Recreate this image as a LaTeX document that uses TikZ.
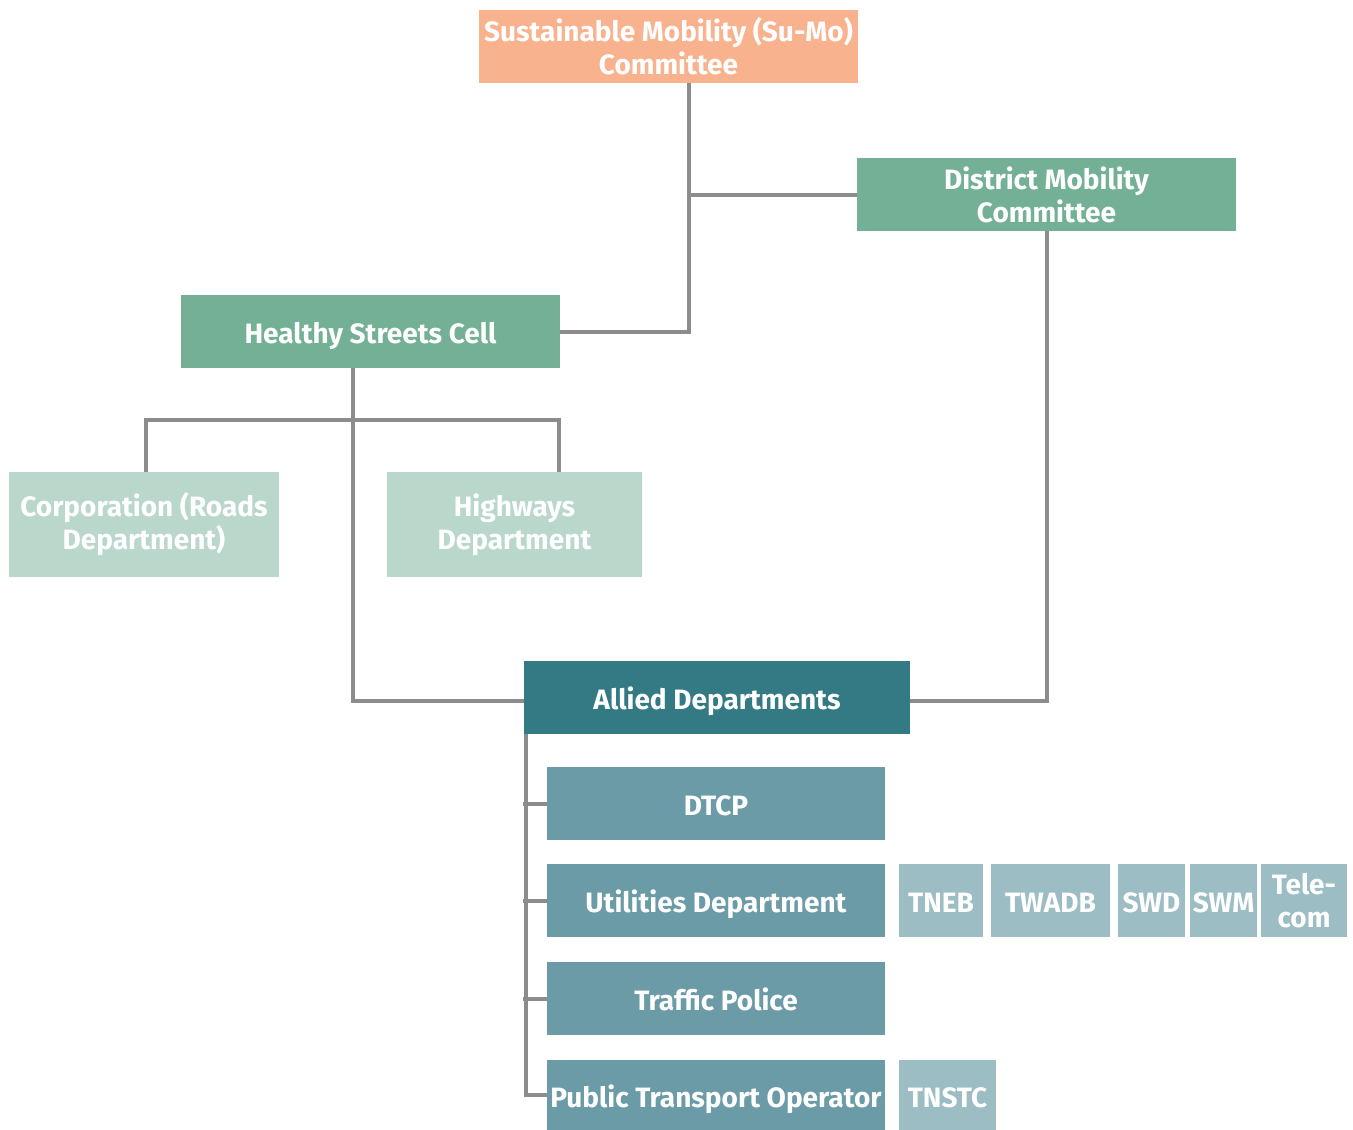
\documentclass[tikz,border=0pt]{standalone}
\usepackage{fontspec}
\setmainfont{Fira Sans}
\usepackage{tikz}
\usetikzlibrary{calc}
\definecolor{sumocol}{HTML}{F9B28E}
\definecolor{midgreen}{HTML}{73B096}
\definecolor{palegreen}{HTML}{BAD7CC}
\definecolor{darkteal}{HTML}{347A85}
\definecolor{midteal}{HTML}{6A9BA6}
\definecolor{paleteal}{HTML}{9BBDC3}
\definecolor{linkgray}{HTML}{8C8C8C}
\tikzstyle{unit}=[inner sep=0pt,align=center,text=white,
  font=\fontsize{28}{33}\selectfont\bfseries]
\tikzstyle{oneline}=[text height=26pt,text depth=2pt]
\tikzstyle{box}=[unit,minimum width=379pt,minimum height=73pt]
\tikzstyle{subbox}=[unit,oneline,fill=midteal,minimum width=338pt,minimum height=73pt]
\tikzstyle{agency}=[unit,fill=paleteal,minimum height=73pt]
\tikzstyle{link}=[draw=linkgray,line width=4pt]
\begin{document}
\begin{tikzpicture}[x=1pt,y=-1pt]
	\useasboundingbox (0,0) rectangle (1353,1130);
	\node[box,fill=sumocol]   (sumo)   at (668.5,46)   {Sustainable Mobility (Su-Mo)\\Committee};
	\node[box,fill=midgreen]  (dmc)    at (1046.5,194.5) {District Mobility\\Committee};
	\node[box,oneline,fill=midgreen]  (hsc)    at (370.5,331.5) {Healthy Streets Cell};
	\node[unit,fill=palegreen,minimum width=270pt,minimum height=105pt] (corp) at (144,524.5) {Corporation (Roads\\Department)};
	\node[unit,fill=palegreen,minimum width=255pt,minimum height=105pt] (hwy)  at (514.5,524.5) {Highways\\Department};
	\node[box,oneline,fill=darkteal,minimum width=386pt] (allied) at (717,697.5) {Allied Departments};
	\node[subbox] (dtcp)    at (716,803.5)  {DTCP};
	\node[subbox] (util)    at (716,900.5)  {Utilities Department};
	\node[subbox] (traffic) at (716,998.5)  {Traffic Police};
	\node[subbox,minimum height=70pt] (pto) at (716,1095) {Public Transport Operator};
	\node[agency,oneline,minimum width=84pt]  (tneb)    at (941,900.5)    {TNEB};
	\node[agency,oneline,minimum width=119pt] (twadb)   at (1050.5,900.5) {TWADB};
	\node[agency,oneline,minimum width=67pt]  (swd)     at (1151.5,900.5) {SWD};
	\node[agency,oneline,minimum width=67pt]  (swm)     at (1223.5,900.5) {SWM};
	\node[agency,minimum width=86pt]  (telecom) at (1304,900.5)   {Tele-\\com};
	\node[agency,oneline,minimum width=97pt,minimum height=70pt] (tnstc) at (947.5,1095) {TNSTC};

	\draw[link] ([xshift=20pt]sumo.south) |- (hsc.east);
	\draw[link] ([xshift=20pt]sumo.south) |- (dmc.west);
	\draw[link] (dmc.south) |- ([yshift=-3pt]allied.east);
	\draw[link] ([xshift=-17.5pt]hsc.south) |- ([yshift=-3pt]allied.west);
	\draw[link] ([xshift=2pt]corp.north) -- ++(0,-52) -| ([xshift=44.5pt]hwy.north);
	\draw[link] ([xshift=2pt]allied.south west) |- (pto.west);
	\foreach \n in {dtcp,util,traffic}
		\draw[link] (\n.west) -- ++(-24,0);
\end{tikzpicture}
\end{document}
